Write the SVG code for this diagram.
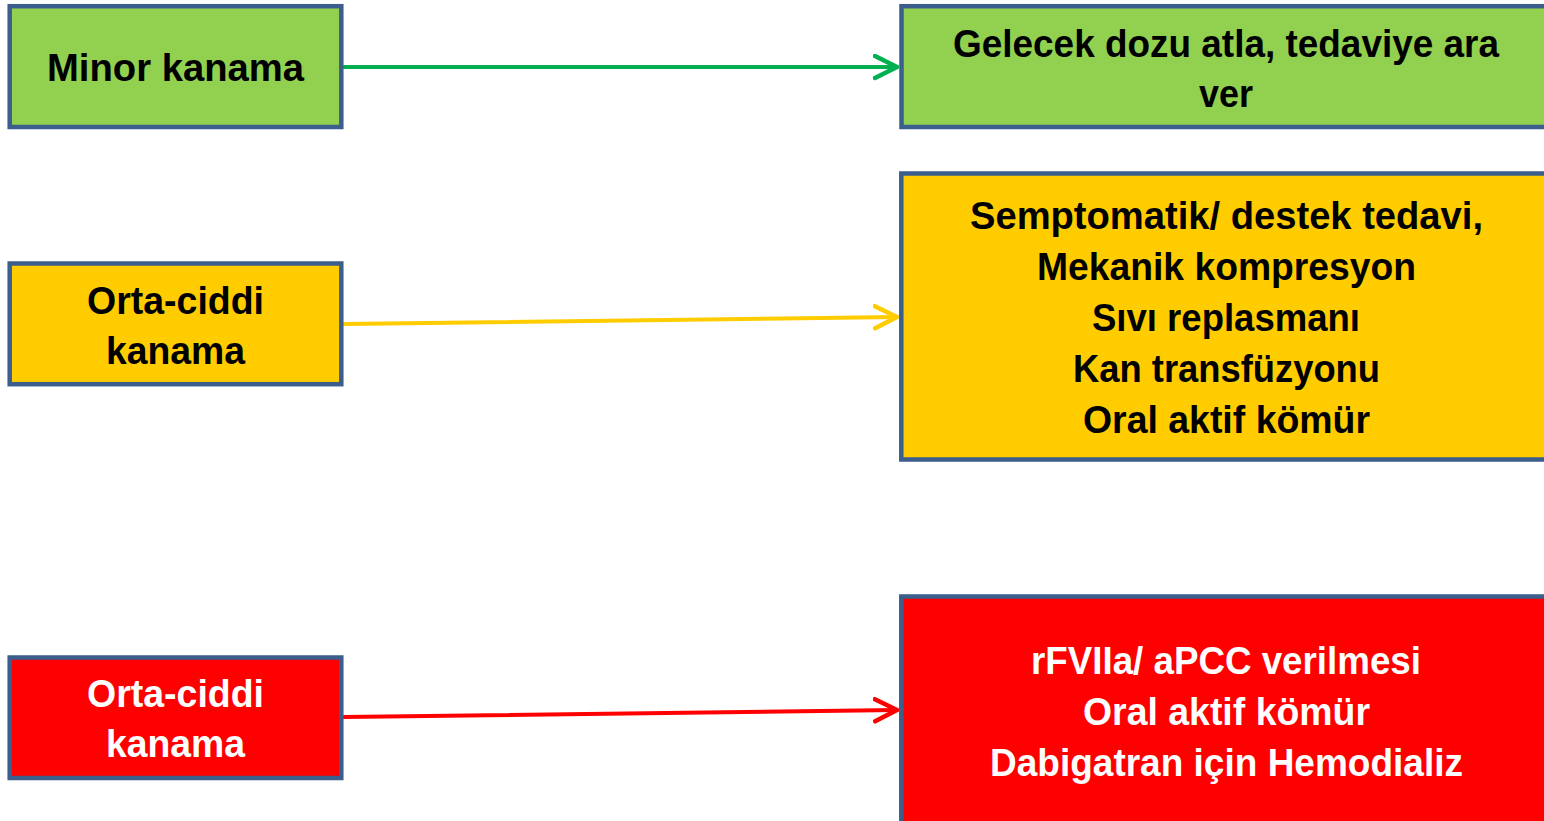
<svg xmlns="http://www.w3.org/2000/svg" width="1544" height="821" viewBox="0 0 1544 821">
<style>
.box{stroke:#3b5e8c;stroke-width:4.5}
.g{fill:#92d050}.y{fill:#ffcc00}.r{fill:#ff0000}
text{font-family:"Liberation Sans",Arial,sans-serif;font-weight:bold;font-size:38px;text-anchor:middle;fill:#000}
.w{fill:#fff}
.conn{fill:none;stroke-width:4;stroke-linecap:round}
</style>
<defs>
<marker id="ag" markerUnits="userSpaceOnUse" markerWidth="30" markerHeight="30" refX="24" refY="13" orient="auto"><path d="M2,2 L24,13 L2,24" fill="none" stroke="#00b050" stroke-width="4.5" stroke-linecap="round" stroke-linejoin="round"/></marker>
<marker id="ay" markerUnits="userSpaceOnUse" markerWidth="30" markerHeight="30" refX="24" refY="13" orient="auto"><path d="M2,2 L24,13 L2,24" fill="none" stroke="#ffcc00" stroke-width="4.5" stroke-linecap="round" stroke-linejoin="round"/></marker>
<marker id="ar" markerUnits="userSpaceOnUse" markerWidth="30" markerHeight="30" refX="24" refY="13" orient="auto"><path d="M2,2 L24,13 L2,24" fill="none" stroke="#ff0000" stroke-width="4.5" stroke-linecap="round" stroke-linejoin="round"/></marker>
</defs>
<rect width="1544" height="821" fill="#fff"/>
<g id="connectors">
<line class="conn" x1="344" y1="67" x2="897" y2="67" stroke="#00b050" marker-end="url(#ag)"/>
<line class="conn" x1="344" y1="324" x2="897" y2="317" stroke="#ffcc00" marker-end="url(#ay)"/>
<line class="conn" x1="344" y1="717" x2="897" y2="710" stroke="#ff0000" marker-end="url(#ar)"/>
</g>
<g id="minor">
<rect class="box g" x="9.7" y="6.2" width="331.6" height="120.8"/>
<text x="175.5" y="81" textLength="257" lengthAdjust="spacingAndGlyphs">Minor kanama</text>
</g>
<g id="minor-action">
<rect class="box g" x="901.5" y="6.2" width="650" height="120.8"/>
<text x="1226" y="57" textLength="546" lengthAdjust="spacingAndGlyphs">Gelecek dozu atla, tedaviye ara</text>
<text x="1226" y="107" textLength="54" lengthAdjust="spacingAndGlyphs">ver</text>
</g>
<g id="orta1">
<rect class="box y" x="9.7" y="263.5" width="331.6" height="120.7"/>
<text x="175.5" y="314" textLength="177" lengthAdjust="spacingAndGlyphs">Orta-ciddi</text>
<text x="175.5" y="364" textLength="139" lengthAdjust="spacingAndGlyphs">kanama</text>
</g>
<g id="orta1-action">
<rect class="box y" x="901.3" y="173.5" width="650" height="286"/>
<text x="1226.5" y="229" textLength="513" lengthAdjust="spacingAndGlyphs">Semptomatik/ destek tedavi,</text>
<text x="1226.5" y="280" textLength="379" lengthAdjust="spacingAndGlyphs">Mekanik kompresyon</text>
<text x="1226" y="331" textLength="268" lengthAdjust="spacingAndGlyphs">Sıvı replasmanı</text>
<text x="1226.5" y="382" textLength="307" lengthAdjust="spacingAndGlyphs">Kan transfüzyonu</text>
<text x="1226.5" y="433" textLength="287" lengthAdjust="spacingAndGlyphs">Oral aktif kömür</text>
</g>
<g id="orta2">
<rect class="box r" x="9.7" y="657.5" width="331.6" height="120.5"/>
<text class="w" x="175.5" y="707" textLength="177" lengthAdjust="spacingAndGlyphs">Orta-ciddi</text>
<text class="w" x="175.5" y="757" textLength="139" lengthAdjust="spacingAndGlyphs">kanama</text>
</g>
<g id="orta2-action">
<rect class="box r" x="901.3" y="596.5" width="650" height="240"/>
<text class="w" x="1226" y="674" textLength="390" lengthAdjust="spacingAndGlyphs">rFVIIa/ aPCC verilmesi</text>
<text class="w" x="1226.5" y="725" textLength="287" lengthAdjust="spacingAndGlyphs">Oral aktif kömür</text>
<text class="w" x="1226.5" y="776" textLength="473" lengthAdjust="spacingAndGlyphs">Dabigatran için Hemodializ</text>
</g>
</svg>
